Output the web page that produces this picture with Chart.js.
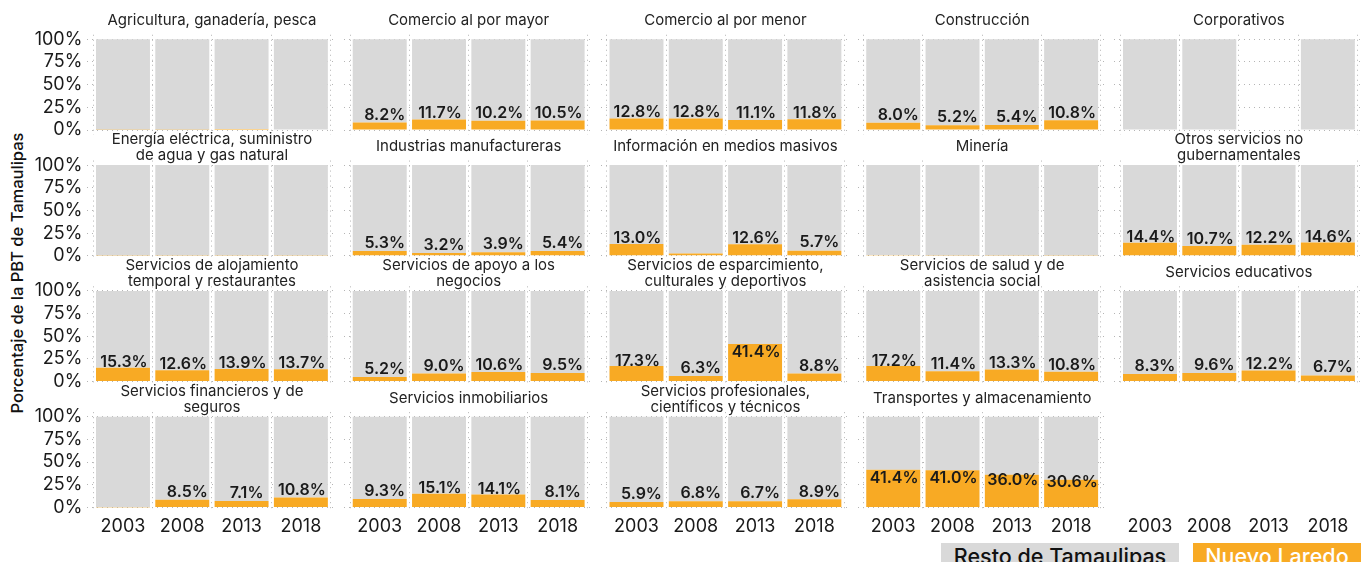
<!DOCTYPE html>
<html><head><meta charset="utf-8">
<script src="https://cdn.jsdelivr.net/npm/chart.js@4.4.1/dist/chart.umd.min.js"></script>
<style>
html,body{margin:0;padding:0;background:#fff;width:1361px;height:562px;overflow:hidden;position:relative;font-family:Inter, sans-serif;}
canvas{position:absolute;}
#ytitle{position:absolute;left:17px;top:273px;transform:translate(-50%,-50%) rotate(-90deg);white-space:nowrap;font-size:16.5px;font-weight:500;color:#111;}
.leg{position:absolute;top:543px;height:26px;font-size:21.5px;font-weight:500;text-align:center;line-height:26px;}
</style></head><body>
<div id="ytitle">Porcentaje de la PBT de Tamaulipas</div>
<div class="leg" style="left:941px;width:238px;background:#d9d9d9;color:#111">Resto de Tamaulipas</div>
<div class="leg" style="left:1193px;width:168px;background:#f8aa24;color:#fff">Nuevo Laredo</div>
<script>
// ---------- data ----------
const years = ['2003', '2008', '2013', '2018'];
const yTicks = [0, 25, 50, 75, 100];
const sectors = [
  'Agricultura, ganadería, pesca',
  'Comercio al por mayor',
  'Comercio al por menor',
  'Construcción',
  'Corporativos',
  'Energía eléctrica, suministro\nde agua y gas natural',
  'Industrias manufactureras',
  'Información en medios masivos',
  'Minería',
  'Otros servicios no\ngubernamentales',
  'Servicios de alojamiento\ntemporal y restaurantes',
  'Servicios de apoyo a los\nnegocios',
  'Servicios de esparcimiento,\nculturales y deportivos',
  'Servicios de salud y de\nasistencia social',
  'Servicios educativos',
  'Servicios financieros y de\nseguros',
  'Servicios inmobiliarios',
  'Servicios profesionales,\ncientíficos y técnicos',
  'Transportes y almacenamiento'
];
// Nuevo Laredo share (%) of Tamaulipas PBT by sector, per year
const nlAgricultura    = [0.4, 0.4, 1.1, 0.5];
const nlComMayor       = [8.2, 11.7, 10.2, 10.5];
const nlComMenor       = [12.8, 12.8, 11.1, 11.8];
const nlConstruccion   = [8.0, 5.2, 5.4, 10.8];
const nlCorporativos   = [0, 0, null, 0];
const nlEnergia        = [0.3, 0.2, 0.3, 0.3];
const nlManufactura    = [5.3, 3.2, 3.9, 5.4];
const nlInformacion    = [13.0, 2.6, 12.6, 5.7];
const nlMineria        = [0.9, 0.2, 0.2, 0.3];
const nlOtros          = [14.4, 10.7, 12.2, 14.6];
const nlAlojamiento    = [15.3, 12.6, 13.9, 13.7];
const nlApoyo          = [5.2, 9.0, 10.6, 9.5];
const nlEsparcimiento  = [17.3, 6.3, 41.4, 8.8];
const nlSalud          = [17.2, 11.4, 13.3, 10.8];
const nlEducativos     = [8.3, 9.6, 12.2, 6.7];
const nlFinancieros    = [0.3, 8.5, 7.1, 10.8];
const nlInmobiliarios  = [9.3, 15.1, 14.1, 8.1];
const nlProfesionales  = [5.9, 6.8, 6.7, 8.9];
const nlTransportes    = [41.4, 41.0, 36.0, 30.6];

const nlSeries = [nlAgricultura, nlComMayor, nlComMenor, nlConstruccion, nlCorporativos,
  nlEnergia, nlManufactura, nlInformacion, nlMineria, nlOtros,
  nlAlojamiento, nlApoyo, nlEsparcimiento, nlSalud, nlEducativos,
  nlFinancieros, nlInmobiliarios, nlProfesionales, nlTransportes];

// ---------- style / layout ----------
const ORANGE = '#f8aa24', GRAY = '#d9d9d9', TXT = '#1a1a1a';
const GRID = '#b5b5b5';
const FONT = 'Inter';
const U = 59.3;            // px per year slot
const PW = 4.2 * U;        // panel width (0.4 .. 4.6)
const X0 = 87.4, PITCH_X = 256.75;
const Y100 = 39.3, PITCH_Y = 125.8, PPU = 0.907;

const titlePlugin = {
  id: 'panelTitle',
  afterDraw(chart) {
    const t = chart.options.plugins.panelTitle.text;
    if (!t) return;
    const ctx = chart.ctx, lines = t.split('\n');
    const ca = chart.chartArea;
    const top = chart.scales.y.getPixelForValue(100);
    const cx = (ca.left + ca.right) / 2;
    ctx.save();
    ctx.font = '400 15px ' + FONT;
    ctx.fillStyle = '#222';
    ctx.textAlign = 'center';
    ctx.textBaseline = 'alphabetic';
    if (lines.length === 1) ctx.fillText(lines[0], cx, top - 14);
    else { ctx.fillText(lines[0], cx, top - 21); ctx.fillText(lines[1], cx, top - 5); }
    ctx.restore();
  }
};

const labelPlugin = {
  id: 'nlLabels',
  afterDatasetsDraw(chart) {
    if (!chart.data.datasets.length) return;
    const ds = chart.data.datasets[0];
    const meta = chart.getDatasetMeta(0);
    const ys = chart.scales.y, ctx = chart.ctx;
    ctx.save();
    ctx.font = '600 16px ' + FONT;
    ctx.fillStyle = TXT;
    ctx.textAlign = 'center';
    ctx.textBaseline = 'alphabetic';
    ds.data.forEach((d, i) => {
      const v = d.y;
      if (v == null || v < 3) return;
      const el = meta.data[i];
      const txt = (v < 10 ? '\u2002' : '') + v.toFixed(1) + '%';
      const pos = 4.3 * Math.sqrt(v) - 1;
      ctx.fillText(txt, el.x + 1, ys.getPixelForValue(pos));
    });
    ctx.restore();
  }
};

function makePanel(idx, r, c) {
  const hasData = idx < sectors.length;
  const showX = r === 3;
  const showY = c === 0 && hasData;
  const panelLeft = X0 + PITCH_X * c;
  const y100 = Y100 + PITCH_Y * r;
  const caTop = y100 - 5 * PPU;
  const caBottom = y100 + 105 * PPU;
  const cLeft = c === 0 ? 0 : Math.floor(panelLeft) - 4;
  const cRight = Math.ceil(panelLeft + PW) + 4;
  const cTop = Math.floor(caTop) - 40;
  const cBottom = Math.ceil(caBottom) + (showX ? 36 : 20);
  const W = cRight - cLeft, H = cBottom - cTop;
  const yW = c === 0 ? panelLeft : 0;
  const xH = showX ? (cBottom - caBottom) : 0;

  const canvas = document.createElement('canvas');
  canvas.width = W; canvas.height = H;
  canvas.style.left = cLeft + 'px'; canvas.style.top = cTop + 'px';
  canvas.style.width = W + 'px'; canvas.style.height = H + 'px';
  document.body.appendChild(canvas);

  const datasets = [];
  if (hasData) {
    const nl = nlSeries[idx];
    datasets.push({
      label: 'Nuevo Laredo',
      data: nl.map((v, i) => ({ x: i + 1, y: v })),
      backgroundColor: ORANGE, borderWidth: 0,
      barPercentage: 0.91, categoryPercentage: 1
    });
    datasets.push({
      label: 'Resto de Tamaulipas',
      data: nl.map((v, i) => ({ x: i + 1, y: v == null ? null : 100 - v })),
      backgroundColor: GRAY, borderWidth: 0,
      barPercentage: 0.91, categoryPercentage: 1
    });
  }

  new Chart(canvas, {
    type: 'bar',
    data: { datasets },
    plugins: [titlePlugin, labelPlugin],
    options: {
      responsive: false, animation: false, devicePixelRatio: 1,
      layout: { padding: {
        left: c === 0 ? 0 : panelLeft - cLeft,
        right: cRight - (panelLeft + PW),
        top: caTop - cTop,
        bottom: showX ? 0 : cBottom - caBottom
      } },
      plugins: {
        legend: { display: false }, tooltip: { enabled: false },
        panelTitle: { text: hasData ? sectors[idx] : '' }
      },
      scales: {
        x: {
          type: 'linear', min: 0.4, max: 4.6, stacked: true, offset: false,
          afterBuildTicks: a => { a.ticks = years.map((_, i) => ({ value: i + 1 })); },
          afterFit: s => { s.height = xH; },
          grid: { display: hasData, color: GRID, lineWidth: 1, drawTicks: false },
          border: { display: false, dash: [1, 4] },
          ticks: { display: showX, padding: 4, color: TXT, font: { family: FONT, size: 18 },
                   callback: v => years[v - 1] }
        },
        y: {
          type: 'linear', min: -5, max: 105, stacked: true,
          afterBuildTicks: a => { a.ticks = yTicks.map(v => ({ value: v })); },
          afterFit: s => { s.width = yW; },
          grid: { display: hasData, color: GRID, lineWidth: 1, drawTicks: false },
          border: { display: false, dash: [1, 4] },
          ticks: { display: showY, padding: 5, color: TXT, font: { family: FONT, size: 18 },
                   callback: v => v + '%' }
        }
      }
    }
  });
}

for (let i = 0; i < 20; i++) makePanel(i, Math.floor(i / 5), i % 5);
</script>
</body></html>
